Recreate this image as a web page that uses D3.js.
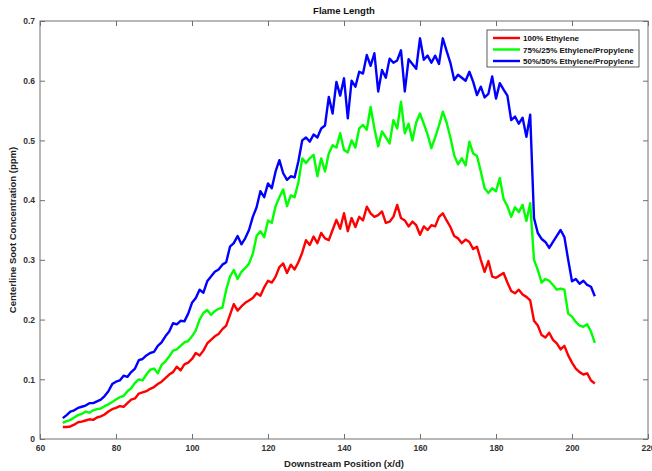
<!DOCTYPE html>
<html>
<head>
<meta charset="utf-8">
<script src="https://cdn.jsdelivr.net/npm/d3@7"></script>
<style>
body { margin: 0; background: #fff; }
text { font-family: "Liberation Sans", Arial, sans-serif; font-weight: bold; }
</style>
</head>
<body>
<svg width="652" height="471"></svg>
<script>
// downstream positions (x/d)
var positions = [66,67,68,69,70,71,72,73,74,75,76,77,78,79,80,81,82,83,84,85,86,87,88,89,90,91,92,93,94,95,96,97,98,99,100,
101,102,103,104,105,106,107,108,109,110,111,112,113,114,115,116,117,118,119,120,121,122,123,124,125,126,127,128,129,130,
131,132,133,134,135,136,137,138,139,140,141,142,143,144,145,146,147,148,149,150,151,152,153,154,155,156,157,158,159,160,
161,162,163,164,165,166,167,168,169,170,171,172,173,174,175,176,177,178,179,180,181,182,183,184,185,186,187,188,189,190,
191,192,193,194,195,196,197,198,199,200,201,202,203,204,205,206]

var ethylene100 = [0.020,0.020,0.021,0.024,0.028,0.029,0.031,0.033,0.032,0.036,0.038,0.041,0.046,0.050,0.052,0.055,0.054,0.060,0.066,0.068,
0.076,0.078,0.080,0.084,0.087,0.092,0.096,0.102,0.108,0.112,0.121,0.115,0.125,0.128,0.134,0.144,0.140,0.148,0.160,0.166,
0.172,0.176,0.184,0.190,0.208,0.226,0.215,0.222,0.228,0.232,0.236,0.244,0.240,0.254,0.265,0.262,0.272,0.288,0.294,0.278,
0.292,0.284,0.296,0.312,0.333,0.325,0.339,0.328,0.345,0.336,0.333,0.350,0.367,0.352,0.378,0.348,0.370,0.355,0.372,0.366,
0.389,0.378,0.372,0.375,0.381,0.362,0.364,0.372,0.392,0.370,0.366,0.356,0.364,0.358,0.342,0.356,0.350,0.358,0.356,0.372,
0.378,0.366,0.355,0.340,0.336,0.328,0.334,0.330,0.318,0.322,0.300,0.280,0.298,0.272,0.270,0.274,0.278,0.262,0.248,0.244,
0.250,0.242,0.238,0.232,0.198,0.190,0.174,0.170,0.178,0.166,0.160,0.150,0.156,0.140,0.128,0.118,0.112,0.108,0.110,0.098,0.093]

var ethylene75 = [0.027,0.030,0.032,0.036,0.040,0.042,0.046,0.044,0.048,0.050,0.051,0.055,0.058,0.062,0.066,0.070,0.072,0.080,0.085,0.094,
0.100,0.098,0.108,0.116,0.118,0.110,0.124,0.130,0.138,0.148,0.150,0.156,0.162,0.164,0.172,0.182,0.200,0.211,0.216,0.208,
0.214,0.218,0.220,0.250,0.272,0.283,0.268,0.280,0.286,0.294,0.310,0.340,0.348,0.338,0.366,0.362,0.390,0.405,0.418,0.390,
0.408,0.405,0.430,0.470,0.462,0.470,0.476,0.440,0.470,0.448,0.478,0.492,0.488,0.512,0.484,0.480,0.500,0.488,0.520,0.526,
0.518,0.556,0.520,0.490,0.515,0.505,0.495,0.534,0.520,0.565,0.512,0.528,0.500,0.530,0.545,0.528,0.510,0.487,0.505,0.525,
0.548,0.530,0.505,0.475,0.460,0.470,0.458,0.498,0.478,0.474,0.448,0.420,0.412,0.420,0.415,0.437,0.402,0.390,0.372,0.388,
0.380,0.392,0.365,0.395,0.300,0.283,0.262,0.268,0.265,0.258,0.250,0.252,0.250,0.210,0.205,0.196,0.190,0.188,0.192,0.180,0.161]

var ethylene50 = [0.035,0.040,0.046,0.048,0.052,0.054,0.056,0.060,0.060,0.063,0.066,0.072,0.080,0.092,0.096,0.098,0.106,0.104,0.112,0.118,
0.132,0.134,0.140,0.144,0.146,0.156,0.162,0.172,0.180,0.194,0.192,0.198,0.197,0.210,0.228,0.236,0.250,0.245,0.264,0.272,
0.280,0.284,0.292,0.296,0.322,0.328,0.340,0.326,0.336,0.350,0.372,0.388,0.415,0.405,0.428,0.420,0.448,0.467,0.445,0.434,
0.440,0.438,0.465,0.500,0.505,0.498,0.510,0.505,0.520,0.525,0.573,0.545,0.598,0.575,0.604,0.537,0.600,0.590,0.615,0.612,
0.643,0.625,0.646,0.582,0.618,0.605,0.637,0.630,0.634,0.651,0.582,0.636,0.628,0.620,0.671,0.635,0.642,0.630,0.642,0.628,
0.671,0.650,0.630,0.601,0.610,0.605,0.600,0.615,0.598,0.576,0.590,0.572,0.578,0.607,0.570,0.596,0.585,0.575,0.534,0.540,
0.528,0.538,0.506,0.543,0.370,0.345,0.335,0.330,0.320,0.330,0.340,0.350,0.338,0.300,0.264,0.268,0.260,0.265,0.258,0.255,0.239]

var seriesNames = ['100% Ethylene', '75%/25% Ethylene/Propylene', '50%/50% Ethylene/Propylene']
var seriesColors = ['#ff0000', '#00ff00', '#0000ff']
var xTicks = [60,80,100,120,140,160,180,200,220]
var yTicks = [0,0.1,0.2,0.3,0.4,0.5,0.6,0.7]

var allSeries = [ethylene100, ethylene75, ethylene50]

// plot box in pixels (note: "top" is taken by window.top)
var pLeft = 40, pRight = 648, pTop = 21, pBottom = 439
var svg = d3.select('svg')

var x = d3.scaleLinear().domain([60,220]).range([pLeft,pRight])
var y = d3.scaleLinear().domain([0,0.7]).range([pBottom,pTop])

var axisColor = '#707070'
var textColor = '#333'

// box + inward ticks
svg.append('rect')
  .attr('x',pLeft).attr('y',pTop)
  .attr('width',pRight-pLeft).attr('height',pBottom-pTop)
  .attr('fill','none').attr('stroke',axisColor).attr('stroke-width',1)

var xAxis = svg.append('g').attr('transform','translate(0,'+pBottom+')')
  .call(d3.axisBottom(x).tickValues(xTicks).tickSize(-5).tickPadding(6).tickFormat(d3.format('d')))
var xTop = svg.append('g').attr('transform','translate(0,'+pTop+')')
  .call(d3.axisTop(x).tickValues(xTicks).tickSize(-5).tickFormat(''))
var yAxis = svg.append('g').attr('transform','translate('+pLeft+',0)')
  .call(d3.axisLeft(y).tickValues(yTicks).tickSize(-5).tickPadding(5).tickFormat(function(d){return d==0?'0':d3.format('.1f')(d)}))
var yRight = svg.append('g').attr('transform','translate('+pRight+',0)')
  .call(d3.axisRight(y).tickValues(yTicks).tickSize(-5).tickFormat(''))

;[xAxis,xTop,yAxis,yRight].forEach(function(g){
  g.select('.domain').remove()
  g.selectAll('line').attr('stroke',axisColor)
  g.selectAll('text').attr('fill',textColor).style('font-size','8.5px').style('font-weight','bold')
    .style('font-family','"Liberation Sans", Arial, sans-serif')
})

// lines
var line = d3.line()
  .x(function(d,i){return x(positions[i])})
  .y(function(d){return y(d)})

allSeries.forEach(function(s,k){
  svg.append('path')
    .datum(s)
    .attr('d',line)
    .attr('fill','none')
    .attr('stroke',seriesColors[k])
    .attr('stroke-width',2.4)
    .attr('stroke-linejoin','round')
})

// labels
svg.append('text').attr('x',(pLeft+pRight)/2).attr('y',14)
  .attr('text-anchor','middle').attr('fill','#111').style('font-size','9.5px').text('Flame Length')
svg.append('text').attr('x',(pLeft+pRight)/2).attr('y',467)
  .attr('text-anchor','middle').attr('fill','#222').style('font-size','9.5px').text('Downstream Position (x/d)')
svg.append('text').attr('transform','translate(16,'+((pTop+pBottom)/2)+') rotate(-90)')
  .attr('text-anchor','middle').attr('fill','#222').style('font-size','9.5px').text('Centerline Soot Concentration (ppm)')

// legend
var legend = svg.append('g')
legend.append('rect').attr('x',487).attr('y',30).attr('width',152).attr('height',37)
  .attr('fill','#fff').attr('stroke','#333').attr('stroke-width',0.8)
seriesNames.forEach(function(n,k){
  var ly = 38 + k*11.5
  legend.append('line').attr('x1',493).attr('x2',520).attr('y1',ly).attr('y2',ly)
    .attr('stroke',seriesColors[k]).attr('stroke-width',2.4)
  legend.append('text').attr('x',523).attr('y',ly+3).attr('fill','#111')
    .style('font-size','8px').text(n)
})
</script>
</body>
</html>
